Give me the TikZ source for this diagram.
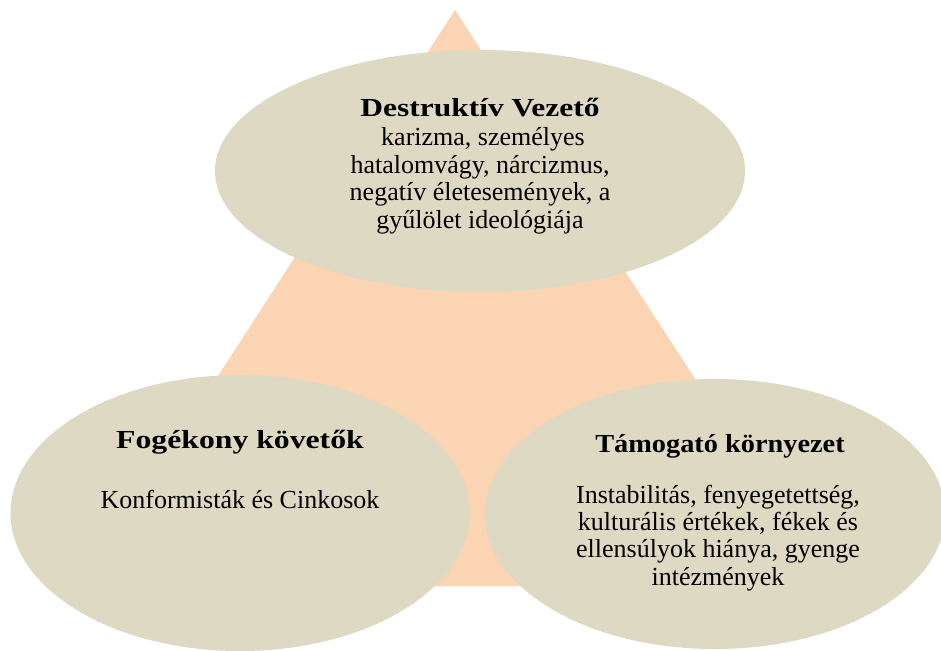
\documentclass[tikz,border=0pt]{standalone}
\usepackage{fontspec}
\setmainfont{Liberation Serif}
\usetikzlibrary{shapes.geometric}
\definecolor{peach}{HTML}{FBD4B4}
\definecolor{khaki}{HTML}{DDD9C3}
\begin{document}
\begin{tikzpicture}[x=1pt,y=-1pt,
  blob/.style={ellipse, fill=khaki, draw=none, inner sep=0pt},
  txt/.style={anchor=base, inner sep=0pt, font=\fontsize{26}{28}\selectfont},
  ttl/.style={anchor=base, inner sep=0pt, font=\fontsize{26}{28}\selectfont\bfseries\addfontfeature{FakeStretch=#1}}]
\useasboundingbox (0,0) rectangle (941,650);
\fill[white] (0,0) rectangle (941,650);
% triangle
\coordinate (apex) at (455,10);
\coordinate (bl) at (82,586);
\coordinate (br) at (830,586);
\fill[peach] (apex) -- (bl) -- (br) -- cycle;
% ellipses
\node[blob, minimum width=530pt, minimum height=242pt] (lead) at (480,171) {};
\node[blob, minimum width=459pt, minimum height=276pt] (foll) at (240,513) {};
\node[blob, minimum width=460pt, minimum height=270pt] (env) at (715,514) {};
% top texts
\node[ttl=1.21] (leadT) at (480,117) {Destruktív Vezető};
\node[txt] (lead1) at (483,145) {karizma, személyes};
\node[txt] (lead2) at (480,173) {hatalomvágy, nárcizmus,};
\node[txt] (lead3) at (480,200) {negatív életesemények, a};
\node[txt] (lead4) at (480,228) {gyűlölet ideológiája};
% left texts
\node[ttl=1.22] (follT) at (240,448) {Fogékony követők};
\node[txt] (foll1) at (240,508) {Konformisták és Cinkosok};
% right texts
\node[ttl=1.09] (envT) at (720,452) {Támogató környezet};
\node[txt] (env1) at (718,503) {Instabilitás, fenyegetettség,};
\node[txt] (env2) at (718,530) {kulturális értékek, fékek és};
\node[txt] (env3) at (718,557) {ellensúlyok hiánya, gyenge};
\node[txt] (env4) at (718,585) {intézmények};
\end{tikzpicture}
\end{document}
